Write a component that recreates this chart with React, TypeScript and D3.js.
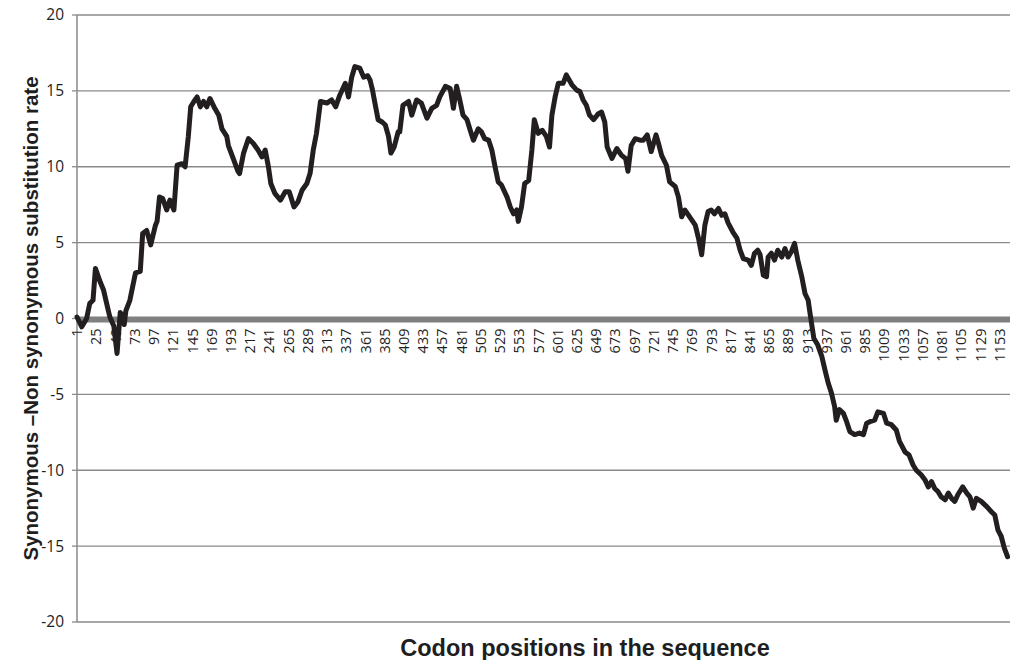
import * as d3 from 'd3';

// codon position (category index) and the substitution-rate difference read at it
const traceCodon = [
  1, 7, 13, 17, 21, 24, 30, 34, 38, 42, 47, 51, 55, 57, 60, 62, 67, 74, 80, 83,
  88, 93, 99, 101, 104, 108, 113, 117, 122, 126, 132, 136, 140, 143, 147, 151, 155, 159, 163, 167,
  173, 178, 182, 188, 190, 196, 202, 204, 209, 215, 221, 227, 232, 236, 240, 243, 248, 255, 261, 266,
  272, 277, 282, 288, 292, 296, 300, 305, 313, 319, 324, 329, 336, 340, 344, 348, 354, 359, 364, 367,
  370, 373, 377, 382, 386, 390, 393, 397, 402, 404, 408, 415, 419, 425, 431, 438, 444, 450, 454, 461,
  467, 471, 475, 479, 483, 488, 492, 496, 502, 506, 510, 515, 519, 523, 527, 531, 538, 542, 546, 550,
  552, 556, 560, 565, 569, 572, 577, 582, 587, 591, 594, 598, 602, 608, 612, 619, 625, 629, 633, 637,
  641, 646, 652, 656, 660, 663, 669, 675, 681, 686, 689, 693, 698, 704, 708, 713, 718, 724, 727, 731,
  737, 741, 748, 752, 756, 760, 766, 773, 777, 781, 785, 789, 793, 797, 802, 806, 810, 814, 820, 825,
  829, 833, 839, 843, 847, 851, 854, 858, 862, 864, 868, 872, 876, 881, 885, 889, 893, 897, 901, 906,
  910, 914, 917, 921, 926, 931, 935, 939, 943, 947, 949, 953, 958, 962, 966, 972, 978, 983, 987, 991,
  997, 1001, 1008, 1012, 1018, 1024, 1028, 1035, 1040, 1045, 1049, 1055, 1060, 1064, 1068, 1072, 1076, 1080, 1085, 1089,
  1093, 1097, 1101, 1107, 1112, 1116, 1120, 1124, 1130, 1137, 1143, 1147, 1151, 1155, 1159, 1163,
];

const traceValue = [
  0.1, -0.55, 0, 1.0, 1.2, 3.3, 2.4, 1.9, 1.0, 0.1, -0.5, -2.3, 0.4, 0.2, -0.4, 0.5, 1.2, 3.0, 3.1, 5.6,
  5.8, 4.85, 6.15, 6.4, 8.0, 7.9, 7.15, 7.8, 7.15, 10.1, 10.2, 10.0, 12.0, 13.95, 14.3, 14.6, 13.95, 14.3, 13.95, 14.5,
  13.85, 13.4, 12.5, 12.0, 11.4, 10.55, 9.7, 9.55, 10.9, 11.85, 11.55, 11.1, 10.65, 11.1, 10.0, 8.9, 8.25, 7.8, 8.35, 8.35,
  7.35, 7.7, 8.45, 8.9, 9.55, 11.1, 12.2, 14.3, 14.2, 14.4, 13.95, 14.7, 15.5, 14.6, 15.9, 16.6, 16.5, 15.9, 16.0, 15.7,
  15.05, 14.2, 13.1, 12.95, 12.75, 12.0, 10.9, 11.3, 12.3, 12.3, 14.05, 14.3, 13.4, 14.4, 14.2, 13.2, 13.85, 14.05, 14.6, 15.3,
  15.15, 13.85, 15.3, 14.4, 13.4, 13.1, 12.4, 11.75, 12.5, 12.3, 11.85, 11.75, 11.1, 10.0, 9.0, 8.8, 8.0, 7.35, 6.9, 7.15,
  6.4, 7.35, 8.9, 9.1, 11.1, 13.1, 12.2, 12.4, 12.0, 11.3, 13.4, 14.6, 15.5, 15.5, 16.05, 15.4, 15.05, 14.95, 14.4, 14.05,
  13.4, 13.1, 13.5, 13.6, 12.95, 11.3, 10.55, 11.2, 10.75, 10.55, 9.7, 11.4, 11.85, 11.75, 11.75, 12.1, 11.0, 12.1, 11.55, 10.75,
  10.1, 9.0, 8.7, 8.0, 6.7, 7.15, 6.7, 6.15, 5.3, 4.2, 6.15, 7.05, 7.15, 6.9, 7.25, 6.8, 6.9, 6.3, 5.7, 5.3,
  4.5, 3.95, 3.85, 3.5, 4.3, 4.5, 4.2, 2.85, 2.75, 4.05, 4.3, 3.85, 4.5, 4.05, 4.6, 4.05, 4.4, 4.95, 3.85, 2.75,
  1.65, 1.2, 0.1, -1.3, -1.75, -2.5, -3.4, -4.25, -4.9, -5.8, -6.7, -6.0, -6.25, -6.8, -7.45, -7.65, -7.55, -7.65, -6.9, -6.8,
  -6.7, -6.15, -6.25, -6.9, -7.0, -7.35, -8.1, -8.8, -9.0, -9.65, -10.0, -10.3, -10.65, -11.1, -10.75, -11.2, -11.4, -11.75, -11.95, -11.5,
  -11.85, -12.05, -11.6, -11.1, -11.5, -11.75, -12.5, -11.85, -12.05, -12.4, -12.75, -12.95, -13.95, -14.35, -15.15, -15.7,
];

const codonCount = 1166;

const xTickLabels = [
  1, 25, 49, 73, 97, 121, 145, 169, 193, 217, 241, 265, 289, 313, 337, 361, 385, 409, 433, 457,
  481, 505, 529, 553, 577, 601, 625, 649, 673, 697, 721, 745, 769, 793, 817, 841, 865, 889, 913, 937,
  961, 985, 1009, 1033, 1057, 1081, 1105, 1129, 1153,
];

const yTicks = [20, 15, 10, 5, 0, -5, -10, -15, -20];

const W = 1010;
const H = 660;
const margin = { top: 15, right: 0, bottom: 38, left: 77 };

const labelFont = '"Open Sans", "Noto Sans", sans-serif';
const titleFont = '"Liberation Sans", Arial, sans-serif';

export default function App() {
  const x = d3.scaleLinear()
    .domain([1, codonCount])
    .range([margin.left, W - margin.right]);

  const y = d3.scaleLinear()
    .domain([-20, 20])
    .range([H - margin.bottom, margin.top]);

  const points = traceCodon.map((c, i) => [c, traceValue[i]] as [number, number]);
  const line = d3.line<[number, number]>()
    .x(d => x(d[0]))
    .y(d => y(d[1]));

  const gridColor = '#8a8a8a';
  const x0 = x.range()[0];

  return (
    <svg width={W} height={H} style={{ position: 'absolute', left: 0, top: 0, background: '#fff' }}>
      {/* horizontal gridlines + y ticks */}
      {yTicks.map(t => (
        <g key={t}>
          {t !== 0 && (
            <line x1={x0} x2={W} y1={y(t)} y2={y(t)} stroke={gridColor} strokeWidth={1.3} />
          )}
          <line x1={x0 - 5} x2={x0} y1={y(t)} y2={y(t)} stroke={gridColor} strokeWidth={1.3} />
          <text
            x={x0 - 13}
            y={y(t)}
            dy="0.35em"
            textAnchor="end"
            fontFamily={labelFont}
            fontSize={15.5}
            fill="#1e1e1e"
          >
            {t}
          </text>
        </g>
      ))}

      {/* y axis line */}
      <line x1={x0} x2={x0} y1={y(20)} y2={y(-20)} stroke={gridColor} strokeWidth={1.5} />

      {/* x axis at zero, thick gray */}
      <line x1={x0} x2={W} y1={y(0) + 1} y2={y(0) + 1} stroke="#808080" strokeWidth={6} />

      {/* category labels, rotated */}
      {xTickLabels.map(c => (
        <text
          key={c}
          transform={`translate(${x(c)},${y(0) + 10}) rotate(-90)`}
          dy="0.36em"
          textAnchor="end"
          fontFamily={labelFont}
          fontSize={14.5}
          fill="#1e1e1e"
        >
          {c}
        </text>
      ))}

      {/* the trace */}
      <path
        d={line(points) ?? ''}
        fill="none"
        stroke="#231f20"
        strokeWidth={5}
        strokeLinejoin="round"
        strokeLinecap="round"
      />

      {/* axis titles */}
      <text
        transform={`translate(38,${(y(20) + y(-20)) / 2}) rotate(-90)`}
        textAnchor="middle"
        fontFamily={titleFont}
        fontWeight="bold"
        fontSize={20.5}
        fill="#1e1e1e"
      >
        Synonymous –Non synonymous substitution rate
      </text>
      <text
        x={585}
        y={656}
        textAnchor="middle"
        fontFamily={titleFont}
        fontWeight="bold"
        fontSize={23.5}
        fill="#1e1e1e"
      >
        Codon positions in the sequence
      </text>
    </svg>
  );
}
